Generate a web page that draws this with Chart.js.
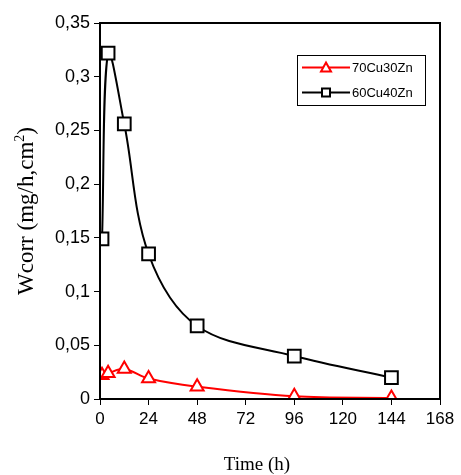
<!DOCTYPE html>
<html>
<head>
<meta charset="utf-8">
<script src="https://cdn.jsdelivr.net/npm/chart.js@4"></script>
<style>
  html, body { margin: 0; padding: 0; background: #fff; }
  #wrap { width: 461px; height: 475px; }
</style>
</head>
<body>
<div id="wrap"><canvas id="chart" width="461" height="475"></canvas></div>
<script>
const timeA = [1, 4, 12, 24, 48, 96, 144];
const cu70Zn30 = [0.022, 0.024, 0.028, 0.019, 0.0115, 0.0025, 0.001];
const timeB = [1, 4, 12, 24, 48, 96, 144];
const cu60Zn40 = [0.149, 0.322, 0.256, 0.135, 0.068, 0.040, 0.020];
const seriesLabels = ["70Cu30Zn", "60Cu40Zn"];
const xTitle = "Time (h)";
const yTitle = ["Wcorr (mg/h,cm", "2", ")"];

const serif = "'Liberation Serif', 'Times New Roman', serif";
const sans = "'Liberation Sans', Arial, sans-serif";

function toPoints(xs, ys) {
  return xs.map((x, i) => ({ x: x, y: ys[i] }));
}

const framePlugin = {
  id: "frame",
  afterDraw(chart) {
    const { ctx, chartArea } = chart;
    ctx.save();
    ctx.strokeStyle = "#000";
    ctx.lineWidth = 2;
    ctx.strokeRect(chartArea.left, chartArea.top, chartArea.right - chartArea.left, chartArea.bottom - chartArea.top);

    // x axis title
    ctx.fillStyle = "#000";
    ctx.font = "19px " + serif;
    ctx.textAlign = "center";
    ctx.textBaseline = "alphabetic";
    ctx.fillText(xTitle, 257, 470);

    // y axis title, with superscript
    ctx.translate(33, (chartArea.top + chartArea.bottom) / 2);
    ctx.rotate(-Math.PI / 2);
    ctx.textAlign = "left";
    ctx.font = "23px " + serif;
    const w1 = ctx.measureText(yTitle[0]).width;
    const w3 = ctx.measureText(yTitle[2]).width;
    ctx.font = "14px " + serif;
    const w2 = ctx.measureText(yTitle[1]).width;
    const x0 = -(w1 + w2 + w3) / 2;
    ctx.font = "23px " + serif;
    ctx.fillText(yTitle[0], x0, 0);
    ctx.fillText(yTitle[2], x0 + w1 + w2, 0);
    ctx.font = "14px " + serif;
    ctx.fillText(yTitle[1], x0 + w1, -9);
    ctx.restore();

    // legend box
    ctx.save();
    const bx = 297, by = 55, bw = 128, bh = 50;
    ctx.fillStyle = "#fff";
    ctx.fillRect(bx, by, bw, bh);
    ctx.strokeStyle = "#000";
    ctx.lineWidth = 1;
    ctx.strokeRect(bx + 0.5, by + 0.5, bw, bh);
    chart.data.datasets.forEach((ds, i) => {
      const y = by + 12.5 + i * 25;
      ctx.strokeStyle = ds.borderColor;
      ctx.lineWidth = 2;
      ctx.beginPath();
      ctx.moveTo(bx + 5, y);
      ctx.lineTo(bx + 53, y);
      ctx.stroke();
      ctx.fillStyle = "#fff";
      const cx = bx + 29;
      if (ds.pointStyle === "triangle") {
        ctx.beginPath();
        ctx.moveTo(cx, y - 5);
        ctx.lineTo(cx + 5, y + 4);
        ctx.lineTo(cx - 5, y + 4);
        ctx.closePath();
        ctx.fill();
        ctx.stroke();
      } else {
        ctx.fillRect(cx - 4, y - 4, 8, 8);
        ctx.strokeRect(cx - 4, y - 4, 8, 8);
      }
      ctx.fillStyle = "#000";
      ctx.font = "13px " + sans;
      ctx.textAlign = "left";
      ctx.textBaseline = "middle";
      ctx.fillText(ds.label, bx + 55, y + 1);
    });
    ctx.restore();
  }
};

new Chart(document.getElementById("chart"), {
  type: "line",
  data: {
    datasets: [
      {
        label: seriesLabels[0],
        data: toPoints(timeA, cu70Zn30),
        borderColor: "#ff0000",
        backgroundColor: "#ffffff",
        borderWidth: 2,
        tension: 0.35,
        pointStyle: "triangle",
        pointRadius: 7.5,
        pointBorderWidth: 2,
        pointBorderColor: "#ff0000",
        pointBackgroundColor: "#ffffff",
      },
      {
        label: seriesLabels[1],
        data: toPoints(timeB, cu60Zn40),
        borderColor: "#000000",
        backgroundColor: "#ffffff",
        borderWidth: 2,
        tension: 0.35,
        pointStyle: "rect",
        pointRadius: 9,
        pointBorderWidth: 2,
        pointBorderColor: "#000000",
        pointBackgroundColor: "#ffffff",
      },
    ],
  },
  options: {
    responsive: false,
    animation: false,
    layout: { padding: { left: 0, right: 21, top: 23, bottom: 0 } },
    plugins: { legend: { display: false }, tooltip: { enabled: false } },
    scales: {
      x: {
        type: "linear",
        min: 0,
        max: 168,
        grid: { drawOnChartArea: false, drawTicks: true, tickLength: 6, color: "#000", lineWidth: 1 },
        border: { display: true, color: "#000", width: 2 },
        ticks: {
          stepSize: 24,
          color: "#000",
          padding: 4,
          font: { family: sans, size: 17 },
        },
        afterFit(scale) { scale.height = 76; },
      },
      y: {
        min: 0,
        max: 0.35,
        grid: { drawOnChartArea: false, drawTicks: true, tickLength: 6, color: "#000", lineWidth: 1 },
        border: { display: true, color: "#000", width: 2 },
        ticks: {
          stepSize: 0.05,
          color: "#000",
          padding: 4,
          font: { family: sans, size: 18 },
          callback: (v) => (Math.round(v * 100) / 100).toString().replace(".", ","),
        },
        afterFit(scale) { scale.width = 100; },
      },
    },
  },
  plugins: [framePlugin],
});
</script>
</body>
</html>
